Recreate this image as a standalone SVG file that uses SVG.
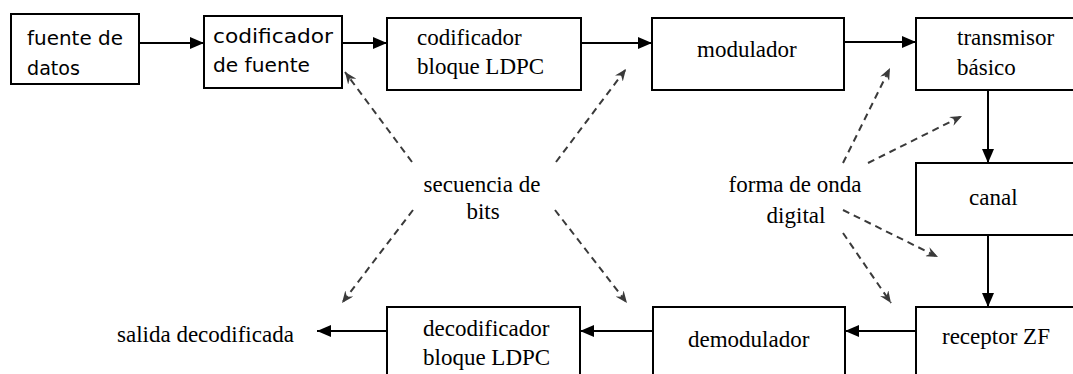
<svg xmlns="http://www.w3.org/2000/svg" width="1073" height="374" viewBox="0 0 1073 374">
  <style>
    .box { fill: #ffffff; stroke: #000000; stroke-width: 2; }
    .flow { fill: none; stroke: #000000; stroke-width: 2; marker-end: url(#head); }
    .hint { fill: none; stroke: #3a3a3a; stroke-width: 2; stroke-dasharray: 7 5; marker-end: url(#hintHead); }
    .serif { font-family: "Liberation Serif", "Times New Roman", serif; font-size: 23px; fill: #000000; }
    .hand { font-family: "DejaVu Sans", "Comic Sans MS", sans-serif; font-size: 19px; fill: #000000; }
  </style>
  <defs>
    <marker id="head" markerUnits="userSpaceOnUse" viewBox="0 0 14 12" refX="14" refY="6" markerWidth="14" markerHeight="12" orient="auto">
      <path d="M0,0 L14,6 L0,12 z" fill="#000000"/>
    </marker>
    <marker id="hintHead" markerUnits="userSpaceOnUse" viewBox="0 0 12 10" refX="12" refY="5" markerWidth="12" markerHeight="10" orient="auto">
      <path d="M0,0 L12,5 L0,10 L4,5 z" fill="#3a3a3a"/>
    </marker>
  </defs>

  <rect width="1073" height="374" fill="#ffffff"/>

  <!-- transmit chain -->
  <g id="fuente-datos">
    <rect class="box" x="11" y="14" width="128" height="70"/>
    <text class="hand" x="27" y="45" textLength="96" lengthAdjust="spacingAndGlyphs">fuente de</text>
    <text class="hand" x="27" y="75" textLength="53" lengthAdjust="spacingAndGlyphs">datos</text>
  </g>
  <g id="codificador-fuente">
    <rect class="box" x="204" y="16" width="138" height="72"/>
    <text class="hand" x="213" y="43" textLength="120" lengthAdjust="spacingAndGlyphs">codificador</text>
    <text class="hand" x="213" y="72" textLength="97" lengthAdjust="spacingAndGlyphs">de fuente</text>
  </g>
  <g id="codificador-ldpc">
    <rect class="box" x="387" y="18" width="194" height="72"/>
    <text class="serif" x="417" y="45">codificador</text>
    <text class="serif" x="417" y="74">bloque LDPC</text>
  </g>
  <g id="modulador">
    <rect class="box" x="652" y="18" width="192" height="72"/>
    <text class="serif" x="697" y="57">modulador</text>
  </g>
  <g id="transmisor">
    <rect class="box" x="916" y="18" width="170" height="72"/>
    <text class="serif" x="957" y="45">transmisor</text>
    <text class="serif" x="957" y="75">básico</text>
  </g>
  <g id="canal">
    <rect class="box" x="916" y="163" width="170" height="72"/>
    <text class="serif" x="969" y="205">canal</text>
  </g>

  <!-- receive chain -->
  <g id="receptor">
    <rect class="box" x="916" y="307" width="170" height="80"/>
    <text class="serif" x="942" y="344">receptor ZF</text>
  </g>
  <g id="demodulador">
    <rect class="box" x="653" y="307" width="192" height="80"/>
    <text class="serif" x="688" y="347">demodulador</text>
  </g>
  <g id="decodificador-ldpc">
    <rect class="box" x="387" y="307" width="193" height="80"/>
    <text class="serif" x="423" y="336">decodificador</text>
    <text class="serif" x="423" y="365">bloque LDPC</text>
  </g>
  <g id="salida">
    <text class="serif" x="117" y="342">salida decodificada</text>
  </g>

  <!-- annotations -->
  <g id="secuencia-bits">
    <text class="serif" x="482" y="192" text-anchor="middle">secuencia de</text>
    <text class="serif" x="483" y="219" text-anchor="middle">bits</text>
  </g>
  <g id="forma-onda">
    <text class="serif" x="795" y="192" text-anchor="middle">forma de onda</text>
    <text class="serif" x="796" y="223" text-anchor="middle">digital</text>
  </g>

  <g id="connectors">
    <line class="flow" x1="139" y1="43" x2="204" y2="43"/>
    <line class="flow" x1="342" y1="43" x2="387" y2="43"/>
    <line class="flow" x1="581" y1="43" x2="652" y2="43"/>
    <line class="flow" x1="844" y1="42" x2="916" y2="42"/>
    <line class="flow" x1="988" y1="90" x2="988" y2="163"/>
    <line class="flow" x1="988" y1="235" x2="988" y2="307"/>
    <line class="flow" x1="916" y1="331" x2="845" y2="331"/>
    <line class="flow" x1="653" y1="331" x2="580" y2="331"/>
    <line class="flow" x1="387" y1="331" x2="317" y2="331"/>

    <line class="hint" x1="412" y1="162" x2="345" y2="72"/>
    <line class="hint" x1="556" y1="162" x2="626" y2="69"/>
    <line class="hint" x1="413" y1="210" x2="342" y2="303"/>
    <line class="hint" x1="555" y1="210" x2="627" y2="303"/>

    <line class="hint" x1="843" y1="163" x2="890" y2="68"/>
    <line class="hint" x1="868" y1="163" x2="962" y2="116"/>
    <line class="hint" x1="843" y1="210" x2="938" y2="257"/>
    <line class="hint" x1="843" y1="233" x2="891" y2="303"/>
  </g>
</svg>
